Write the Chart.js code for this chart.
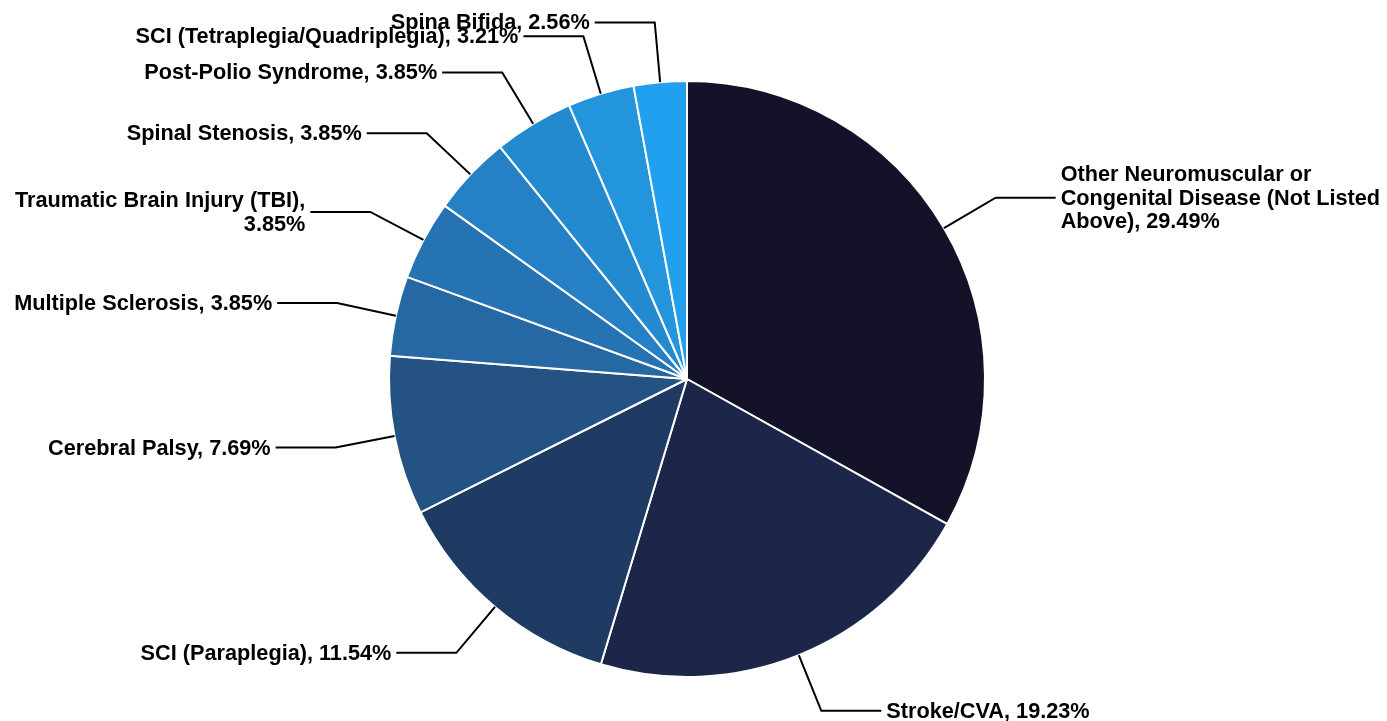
<!DOCTYPE html>
<html>
<head>
<meta charset="utf-8">
<script src="https://cdn.jsdelivr.net/npm/chart.js@4.4.1/dist/chart.umd.min.js"></script>
<style>
  html, body { margin: 0; padding: 0; background: #fff; }
  #wrap { width: 1387px; height: 721px; position: relative; }
</style>
</head>
<body>
<div id="wrap"><canvas id="myChart"></canvas></div>
<script>
// data
const categories = [
  'Other Neuromuscular or Congenital Disease (Not Listed Above)',
  'Stroke/CVA',
  'SCI (Paraplegia)',
  'Cerebral Palsy',
  'Multiple Sclerosis',
  'Traumatic Brain Injury (TBI)',
  'Spinal Stenosis',
  'Post-Polio Syndrome',
  'SCI (Tetraplegia/Quadriplegia)',
  'Spina Bifida'
];
const percents = [29.49, 19.23, 11.54, 7.69, 3.85, 3.85, 3.85, 3.85, 3.21, 2.56];
const colors = [
  '#131229', '#1b2648', '#1f3a63', '#245282', '#2668a4',
  '#2673b3', '#2680c5', '#238acf', '#2295dd', '#20a0ee'
];

const labelFont = 'bold 21.7px "Liberation Sans", Arial, sans-serif';

function wrapText(ctx, text, maxWidth) {
  const words = text.split(' ');
  const lines = [];
  let line = '';
  words.forEach(w => {
    const test = line ? line + ' ' + w : w;
    if (line && ctx.measureText(test).width > maxWidth) {
      lines.push(line);
      line = w;
    } else {
      line = test;
    }
  });
  if (line) lines.push(line);
  return lines;
}

// outside labels with leader lines
const outsideLabels = {
  id: 'outsideLabels',
  afterDatasetsDraw(chart) {
    const ctx = chart.ctx;
    const meta = chart.getDatasetMeta(0);
    const W = chart.width;
    ctx.save();
    ctx.font = labelFont;
    ctx.strokeStyle = '#000';
    ctx.fillStyle = '#000';
    ctx.lineWidth = 2;
    meta.data.forEach((arc, i) => {
      const p = arc.getProps(['x', 'y', 'startAngle', 'endAngle', 'outerRadius'], true);
      const mid = (p.startAngle + p.endAngle) / 2;
      const cx = Math.cos(mid), cy = Math.sin(mid);
      const ex = p.x + cx * p.outerRadius, ey = p.y + cy * p.outerRadius;
      const bx = p.x + cx * (p.outerRadius + 60), by = p.y + cy * (p.outerRadius + 60);
      const right = cx >= 0;
      const hx = bx + (right ? 60 : -60);
      ctx.beginPath();
      ctx.moveTo(ex, ey);
      ctx.lineTo(bx, by);
      ctx.lineTo(hx, by);
      ctx.stroke();

      const tx = hx + (right ? 5 : -5);
      const text = categories[i] + ', ' + percents[i].toFixed(2) + '%';
      const room = right ? W - tx - 2 : tx - 2;
      const lines = wrapText(ctx, text, room);
      const lh = 23.5;
      ctx.textAlign = right ? 'left' : 'right';
      ctx.textBaseline = 'middle';
      const y0 = by - (lines.length - 1) * lh / 2;
      lines.forEach((ln, k) => ctx.fillText(ln, tx, y0 + k * lh + 1));
    });
    ctx.restore();
  }
};

const ctx = document.getElementById('myChart').getContext('2d');
new Chart(ctx, {
  type: 'pie',
  data: {
    labels: categories,
    datasets: [{
      data: percents,
      backgroundColor: colors,
      borderColor: '#ffffff',
      borderWidth: 2
    }]
  },
  options: {
    responsive: true,
    maintainAspectRatio: false,
    animation: false,
    layout: { padding: { top: 80, bottom: 43, left: 0, right: 13 } },
    plugins: {
      legend: { display: false },
      tooltip: { enabled: false }
    }
  },
  plugins: [outsideLabels]
});
</script>
</body>
</html>
